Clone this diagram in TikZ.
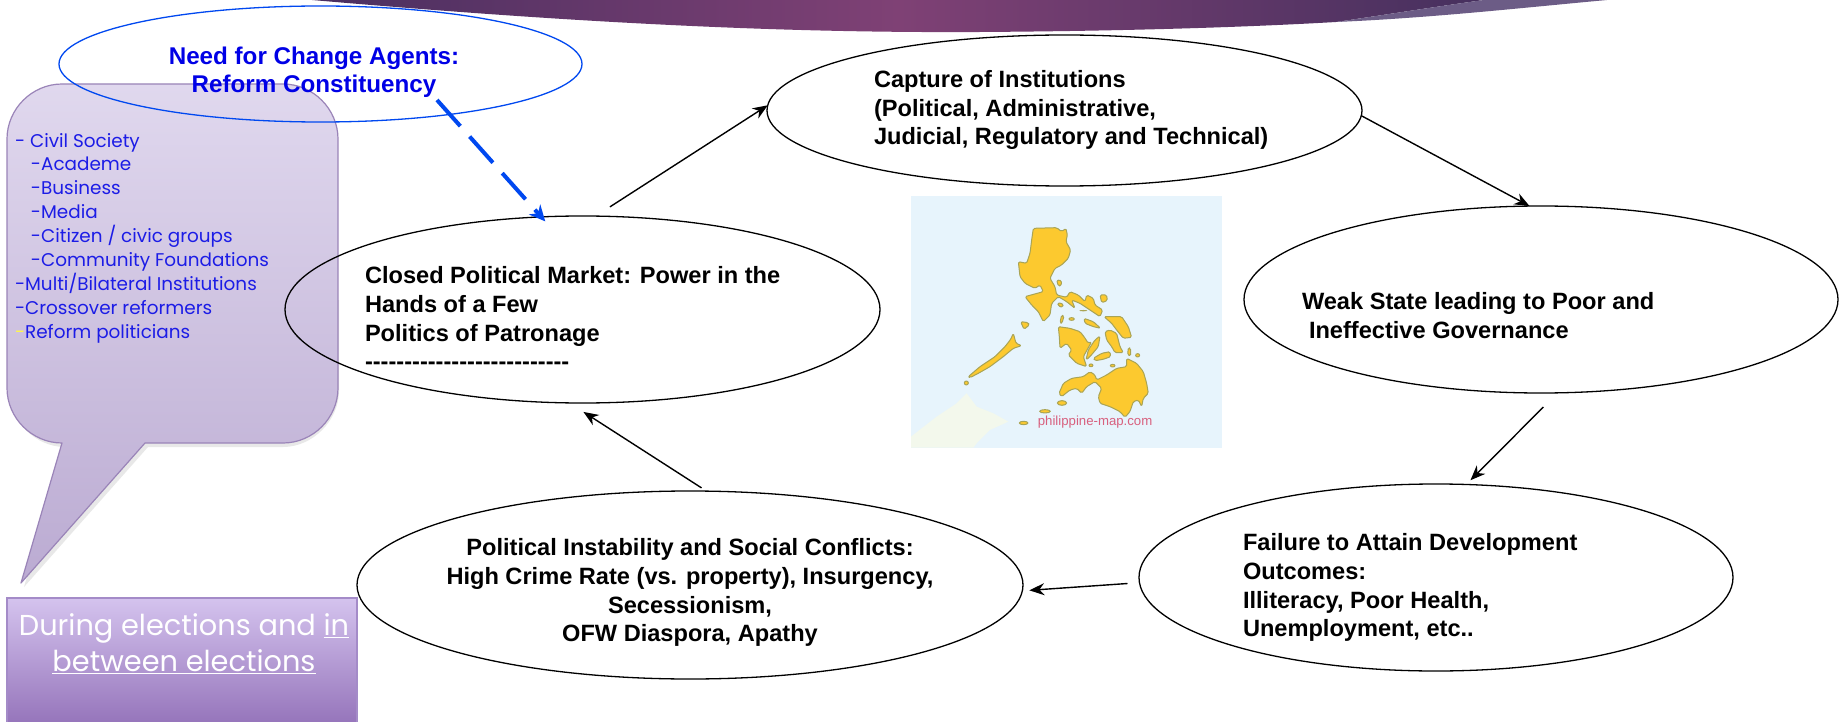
\documentclass[tikz,border=0pt]{standalone}
\usepackage{fontspec}
\setmainfont{Liberation Sans}
\newfontfamily\gothic{Poppins}
\usetikzlibrary{shapes.geometric,arrows.meta}
\definecolor{needblue}{HTML}{0048F0}
\definecolor{needtext}{HTML}{0000E6}
\definecolor{listblue}{HTML}{1C1CE6}
\definecolor{calloutedge}{HTML}{9A84B8}
\definecolor{boxedge}{HTML}{A48BC8}
\definecolor{landyellow}{HTML}{FCC92F}
\definecolor{landedge}{HTML}{A9A455}
\definecolor{seablue}{HTML}{E7F4FC}
\definecolor{bannerleft}{HTML}{4A2F60}
\definecolor{bannermid}{HTML}{7F4175}
\definecolor{bannerright}{HTML}{46305E}
\definecolor{bannerwedge}{HTML}{6C5C86}
\definecolor{landpale}{HTML}{F3F8EC}
\definecolor{mapred}{HTML}{D8607E}
\definecolor{callouttop}{HTML}{E0D8EE}
\definecolor{calloutbot}{HTML}{BBABD2}
\definecolor{boxtop}{HTML}{D4C3EE}
\definecolor{boxbot}{HTML}{9675BB}
\tikzset{
  loop ell/.style={ellipse,draw=black,line width=1.3pt,inner sep=0pt,outer sep=0pt},
  body/.style={font=\bfseries\fontsize{23.6}{28.9}\selectfont,text=black,inner sep=0pt,outer sep=0pt},
  flow/.style={draw=black,line width=1.4pt,-{Stealth[length=15pt,width=12pt]}},
  island/.style={fill=landyellow,draw=landedge,line width=1pt,line join=round,rounded corners=1.5pt},
}
\begin{document}
\begin{tikzpicture}[x=1pt,y=-1pt]
\useasboundingbox (0,0) rectangle (1847,722);
\fill[white] (0,0) rectangle (1847,722);
% banner
\shade[left color=bannerleft,right color=bannerright,middle color=bannermid]
  (312,0) .. controls (600,25) and (800,33) .. (980,32) .. controls (1130,31) and (1250,27) .. (1336,22)
  .. controls (1390,14) and (1440,6) .. (1484,0) -- cycle;
\fill[bannerwedge] (1484,0) .. controls (1440,6) and (1390,14) .. (1336,22)
  .. controls (1430,18) and (1520,8) .. (1607,0) -- cycle;
% map
\begin{scope}[shift={(880,180)},x=0.3333pt,y=-0.3333pt]
\fill[seablue] (93,48) rectangle (1025,803);
\fill[landpale] (93,770) -- (170,710) -- (230,670) -- (260,640) -- (290,680) -- (340,700) -- (385,725) -- (330,750) -- (290,790) -- (280,803) -- (93,803) -- cycle;
\path[island] (460,145) -- (530,143) -- (545,155) -- (558,145) -- (562,165) -- (558,185) -- (572,210) -- (565,235) -- (545,255) -- (525,265) -- (510,295) -- (525,320) -- (530,345) -- (560,352) -- (570,335) -- (595,345) -- (615,365) -- (620,345) -- (640,355) -- (645,375) -- (668,390) -- (660,410) -- (630,390) -- (600,370) -- (575,360) -- (585,385) -- (560,365) -- (535,350) -- (515,370) -- (510,405) -- (490,425) -- (475,395) -- (455,375) -- (435,350) -- (490,335) -- (480,315) -- (465,325) -- (435,310) -- (420,290) -- (415,245) -- (440,250) -- (450,220) -- (455,180) -- cycle;
\path[island] (660,345) -- (680,345) -- (682,362) -- (665,368) -- cycle;
\path[island] (740,535) -- (770,550) -- (790,575) -- (800,610) -- (805,640) -- (790,655) -- (785,680) -- (775,660) -- (760,665) -- (750,695) -- (735,712) -- (720,695) -- (690,680) -- (660,670) -- (655,650) -- (665,625) -- (645,605) -- (620,620) -- (605,640) -- (590,625) -- (570,630) -- (545,650) -- (537,640) -- (550,610) -- (575,595) -- (610,590) -- (630,575) -- (645,585) -- (650,600) -- (680,585) -- (710,565) -- (740,560) -- cycle;
\path[island] (265,590) -- (300,560) -- (345,530) -- (375,500) -- (392,478) -- (400,460) -- (408,490) -- (425,497) -- (400,505) -- (370,530) -- (330,560) -- (295,580) -- (270,593) -- cycle;
\path[island] (535,440) -- (570,445) -- (600,455) -- (612,470) -- (625,490) -- (635,485) -- (610,530) -- (620,560) -- (590,550) -- (565,525) -- (575,510) -- (560,490) -- (540,505) -- (538,470) -- cycle;
\path[island] (660,468) -- (655,500) -- (630,530) -- (618,540) -- (625,510) -- (645,480) -- cycle;
\path[island] (640,535) -- (665,520) -- (690,515) -- (692,530) -- (670,538) -- (645,542) -- cycle;
\path[island] (672,410) -- (725,410) -- (745,440) -- (755,472) -- (730,475) -- (710,450) -- (695,430) -- cycle;
\path[island] (675,455) -- (690,450) -- (710,460) -- (715,480) -- (720,500) -- (730,518) -- (705,518) -- (695,500) -- (680,480) -- cycle;
\path[island] (612,415) -- (640,425) -- (662,445) -- (640,440) -- (615,430) -- cycle;
\path[island] (422,425) -- (445,428) -- (448,435) -- (432,448) -- cycle;
\path[island] (530,300) -- (545,302) -- (543,318) -- (535,318) -- cycle;
\path[island] (533,368) -- (550,372) -- (548,382) -- (535,378) -- cycle;
\path[island] (545,405) -- (552,408) -- (546,430) -- (540,428) -- cycle;
\path[island] (745,503) -- (752,505) -- (752,528) -- (743,525) -- cycle;
\path[island] (259,609) ellipse [x radius=6,y radius=6];
\path[island] (575,417) ellipse [x radius=8,y radius=4];
\path[island] (773,526) ellipse [x radius=6,y radius=5];
\path[island] (633,556) ellipse [x radius=6,y radius=4];
\path[island] (546,669) ellipse [x radius=14,y radius=7];
\path[island] (495,694) ellipse [x radius=16,y radius=5];
\path[island] (431,729) ellipse [x radius=13,y radius=5];
\path[island] (698,557) ellipse [x radius=7,y radius=4];
\fill[landedge] (610,392) ellipse [x radius=12,y radius=2];
\node[anchor=base west,inner sep=0pt,text=mapred,font=\fontsize{13.2}{16}\selectfont] (maplabel) at (473,737) {philippine-map.com};
\end{scope}
% callout
\fill[black!9] (65,447) -- (24,587) -- (148,447) -- (283,447) .. controls (313,447) and (339,420) .. (339,391) -- (339,300) -- (9,300) -- (9,391) .. controls (9,420) and (35,447) .. (65,447) -- cycle;
\shade[top color=callouttop,bottom color=calloutbot,draw=calloutedge,line width=1.2pt,line join=round]
  (62,443) -- (21,583) -- (145,443) -- (283,443) .. controls (313,443) and (338,418) .. (338,388)
  -- (338,139) .. controls (338,109) and (313,84) .. (283,84) -- (62,84)
  .. controls (32,84) and (7,109) .. (7,139) -- (7,388) .. controls (7,418) and (32,443) .. (62,443) -- cycle;
\node[anchor=north west,align=left,inner sep=0pt,outer sep=0pt,text=listblue,font=\gothic\fontsize{18.4}{23.9}\selectfont] (listing) at (15,133)
 {- Civil Society\\
  \hspace*{16pt}-Academe\\
  \hspace*{16pt}-Business\\
  \hspace*{16pt}-Media\\
  \hspace*{16pt}-Citizen / civic groups\\
  \hspace*{16pt}-Community Foundations\\
  -Multi/Bilateral Institutions\\
  -Crossover reformers\\
  {\color{yellow!70!white}-}Reform politicians};
% bottom box
\shade[top color=boxtop,bottom color=boxbot,draw=boxedge,line width=1.2pt]
  (7,598) rectangle (357,723);
\node[anchor=north,align=center,inner sep=0pt,outer sep=0pt,text=white,font=\gothic\fontsize{28.8}{36}\selectfont] (when) at (184,614)
 {During elections and \underline{in}\\ \underline{between elections}};
% ellipses
\node[loop ell,draw=needblue,minimum width=523pt,minimum height=116pt] (need) at (320.5,64) {};
\node[loop ell,minimum width=595pt,minimum height=187pt] (closed) at (582.5,309.5) {};
\node[loop ell,minimum width=595pt,minimum height=151pt] (capture) at (1064.5,110.5) {};
\node[loop ell,minimum width=594pt,minimum height=187pt] (weak) at (1541,299.5) {};
\node[loop ell,minimum width=594pt,minimum height=187pt] (failure) at (1436,577.5) {};
\node[loop ell,minimum width=666pt,minimum height=188pt] (political) at (690,585) {};
% texts
\node[body,align=center,text=needtext,font=\bfseries\fontsize{24.2}{28}\selectfont] (needtxt) at (314,72) {Need for Change Agents:\\Reform Constituency};
\node[body,align=left,anchor=west] (closedtxt) at (365,318) {Closed Political Market: Power in the\\Hands of a Few\\Politics of Patronage\\{-}{-}{-}{-}{-}{-}{-}{-}{-}{-}{-}{-}{-}{-}{-}{-}{-}{-}{-}{-}{-}{-}{-}{-}{-}{-}};
\node[body,align=left,anchor=west] (capturetxt) at (874,110) {Capture of Institutions\\(Political, Administrative,\\Judicial, Regulatory and Technical)};
\node[body,align=left,anchor=west] (weaktxt) at (1302,316) {Weak State leading to Poor and\\\hspace*{7pt}Ineffective Governance};
\node[body,align=left,anchor=west] (failuretxt) at (1243,587.5) {Failure to Attain Development\\Outcomes:\\Illiteracy, Poor Health,\\Unemployment, etc..};
\node[body,align=center] (politicaltxt) at (690,592.5) {Political Instability and Social Conflicts:\\High Crime Rate (vs. property), Insurgency,\\Secessionism,\\OFW Diaspora, Apathy};
% connectors
\draw[flow,shorten <=17pt] (closed.82) -- (capture.179);
\draw[flow] (capture.359) -- (weak.97);
\draw[flow,shorten <=20pt,shorten >=6pt] (weak.280) -- (failure.72);
\draw[flow,shorten <=12pt,shorten >=7pt] (failure.181) -- (political.359.7);
\draw[flow,shorten <=6pt,shorten >=16.7pt] (political.80) -- (closed.262);
\coordinate (dashstart) at (437,100);
\draw[draw=needblue,line width=4pt,dash pattern=on 35pt off 14pt,-{Stealth[length=16pt,width=15pt]},shorten >=-6pt] (dashstart) -- (closed.114);
\end{tikzpicture}
\end{document}
